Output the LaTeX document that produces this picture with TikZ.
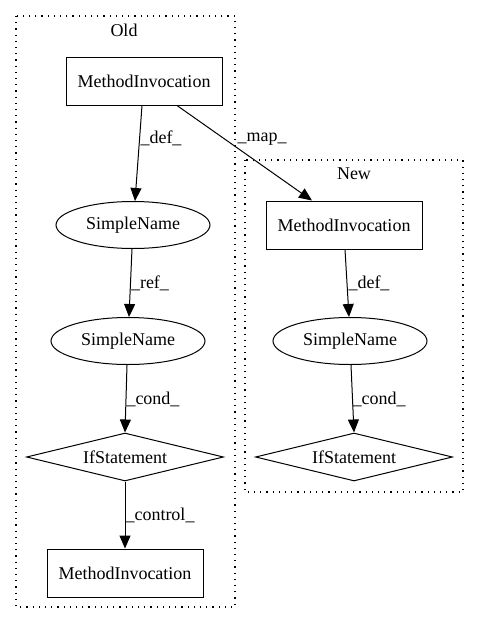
\documentclass[tikz,border=0pt]{standalone}
\usepackage{fontspec}
\setmainfont{Liberation Serif}
\usetikzlibrary{shapes.geometric,arrows.meta}
\begin{document}
\begin{tikzpicture}[x=1pt,y=-1pt,
  every node/.style={font=\fontsize{18}{20}\selectfont},
  cluster/.style={draw,line width=1.2pt,dash pattern=on 1.2pt off 5pt},
  boxnode/.style={draw,line width=1pt,rectangle,minimum width=156pt,minimum height=48pt,inner sep=0pt},
  ellnode/.style={draw,line width=1pt,ellipse,minimum width=154pt,minimum height=47pt,inner sep=0pt},
  dianode/.style={draw,line width=1pt,diamond,aspect=4.1,minimum width=197pt,minimum height=48pt,inner sep=0pt},
  edge/.style={draw,line width=1pt,-{Triangle[length=13pt,width=11pt]}},
  lab/.style={inner sep=0pt}
]
\useasboundingbox (0,0) rectangle (480,624);
\draw[cluster] (16,16) rectangle (235,607);
\draw[cluster] (245,160) rectangle (463,492);
\node (oldlab) at (124,30) {Old};
\node (newlab) at (354,174) {New};

\node[boxnode] (mi1) at (144,81) {MethodInvocation};
\node[ellnode] (sn1) at (133,225) {SimpleName};
\node[ellnode] (sn2) at (128,341) {SimpleName};
\node[dianode] (if1) at (125,457) {IfStatement};
\node[boxnode] (mi2) at (125,573) {MethodInvocation};

\node[boxnode] (mi3) at (344,225) {MethodInvocation};
\node[ellnode] (sn3) at (350,341) {SimpleName};
\node[dianode] (if2) at (354,457) {IfStatement};

\path[edge] (mi1.south -| 142,0) -- (sn1.north -| 135,0);
\path[edge] (mi1.south -| 177,0) -- (mi3.north -| 312,0);
\path[edge] (sn1.south -| 132,0) -- (sn2.north -| 129,0);
\path[edge] (sn2.south -| 127,0) -- (if1.north);
\path[edge] (if1.south) -- (mi2.north);
\path[edge] (mi3.south -| 345,0) -- (sn3.north -| 349,0);
\path[edge] (sn3.south -| 351,0) -- (if2.north);

\node[lab] (l1) at (161,138) {\_def\_};
\node[lab] (l2) at (262,139) {\_map\_};
\node[lab] (l3) at (150,283) {\_ref\_};
\node[lab] (l4) at (153,399) {\_cond\_};
\node[lab] (l5) at (160,515) {\_control\_};
\node[lab] (l6) at (369,283) {\_def\_};
\node[lab] (l7) at (379,399) {\_cond\_};
\end{tikzpicture}
\end{document}
